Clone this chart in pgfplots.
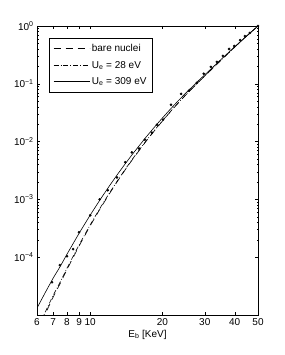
\documentclass[border=0pt]{standalone}
\usepackage{fontspec}
\setmainfont{Liberation Sans}
\usepackage{pgfplots}
\pgfplotsset{compat=1.18}
\begin{document}
\fontsize{9.5}{11}\selectfont
\begin{tikzpicture}
\begin{axis}[
  name=ax,
  scale only axis,
  width=221pt, height=289pt,
  xmode=log, ymode=log,
  xmin=6, xmax=50, ymin=1e-5, ymax=1,
  xtick={6,7,8,9,10,20,30,40,50},
  xticklabels={6,7,8,9,10,20,30,40,50},
  ytick={1e-4,1e-3,1e-2,1e-1,1},
  yticklabels={10\textsuperscript{−4},10\textsuperscript{−3},10\textsuperscript{−2},10\textsuperscript{−1},10\textsuperscript{0}},
  minor xtick={},
  tick align=inside,
  major tick length=3pt, minor tick length=1.5pt,
  tick style={black, line width=0.4pt},
  axis line style={line width=0.6pt},
  ticklabel style={font=\fontsize{10}{12}\selectfont},
  xlabel={E\textsubscript{b} [KeV]},
  xlabel style={font=\fontsize{10}{12}\selectfont, yshift=2pt},
  legend style={at={(0.054,0.958)}, anchor=north west, draw=black, line width=0.6pt,
    font=\fontsize{10}{12}\selectfont, row sep=4pt, inner xsep=4pt, inner ysep=4pt,
    /tikz/every even column/.append style={column sep=3pt}},
  legend cell align=left,
  legend image code/.code={\draw[#1, line width=0.6pt] (0pt,0pt) -- (36pt,0pt);},
]
\addplot[black, line width=0.6pt, dash pattern=on 7pt off 5pt] coordinates {
(6,5.02e-6) (6.5,1.050e-5) (7,2.026e-5) (7.5,3.52e-5) (8,6.115e-5) (9,1.583e-4)
(10,3.507e-4) (11,6.90e-4) (12,1.240e-3) (13,2.073e-3) (14,3.267e-3) (15,4.906e-3)
(17,9.86e-3) (19,1.763e-2) (21,2.886e-2) (23,4.416e-2) (25,6.404e-2) (28,0.1034)
(31,0.1552) (35,0.2542) (40,0.4308) (45,0.6781) (50,1)};
\addlegendentry{bare nuclei}
\addplot[black, line width=0.6pt, dash pattern=on 5pt off 2pt on 0.8pt off 2pt] coordinates {
(6,5.48e-6) (6.5,1.134e-5) (7,2.170e-5) (7.5,3.744e-5) (8,6.464e-5) (9,1.657e-4)
(10,3.645e-4) (11,7.133e-4) (12,1.276e-3) (13,2.125e-3) (14,3.339e-3) (15,5.002e-3)
(17,1.0013e-2) (19,1.785e-2) (21,2.915e-2) (23,4.453e-2) (25,6.448e-2) (28,0.1040)
(31,0.1559) (35,0.2548) (40,0.4314) (45,0.6786) (50,1)};
\addlegendentry{U\textsubscript{e} = 28 eV}
\addplot[black, line width=0.6pt] coordinates {
(6,1.318e-5) (6.5,2.46e-5) (7,4.32e-5) (7.5,6.94e-5) (8,1.128e-4) (9,2.626e-4)
(10,5.37e-4) (11,9.93e-4) (12,1.698e-3) (13,2.726e-3) (14,4.156e-3) (15,6.07e-3)
(17,1.168e-2) (19,2.022e-2) (21,3.228e-2) (23,4.843e-2) (25,6.913e-2) (28,0.1096)
(31,0.1622) (35,0.2618) (40,0.438) (45,0.683) (50,1)};
\addlegendentry{U\textsubscript{e} = 309 eV}
\addplot[only marks, mark=*, mark size=1.1pt, black, forget plot] coordinates {
(6.93,3.7e-5) (7.47,7.3e-5) (8.0,1.04e-4) (8.48,1.38e-4) (8.98,2.7e-4) (10.0,5.3e-4)
(10.95,1.0e-3) (11.82,1.44e-3) (12.92,2.4e-3) (14.0,4.4e-3) (14.9,6.5e-3) (15.96,7.6e-3)
(16.9,1.08e-2) (18.07,1.43e-2) (18.97,1.96e-2) (20.1,2.4e-2) (21.7,4.35e-2) (23.9,6.7e-2)
(25.8,7.6e-2) (27.8,0.104) (29.7,0.149) (31.8,0.196) (33.7,0.239) (35.7,0.304)
(37.9,0.40) (39.8,0.45) (42.1,0.57) (44.1,0.67) (46.2,0.76) (50,1)};
\end{axis}
\path (ax.south west) ++(-37pt,-40pt) coordinate (bl);
\path (ax.north east) ++(26pt,26pt) coordinate (tr);
\useasboundingbox (bl) rectangle (tr);
\end{tikzpicture}
\end{document}
